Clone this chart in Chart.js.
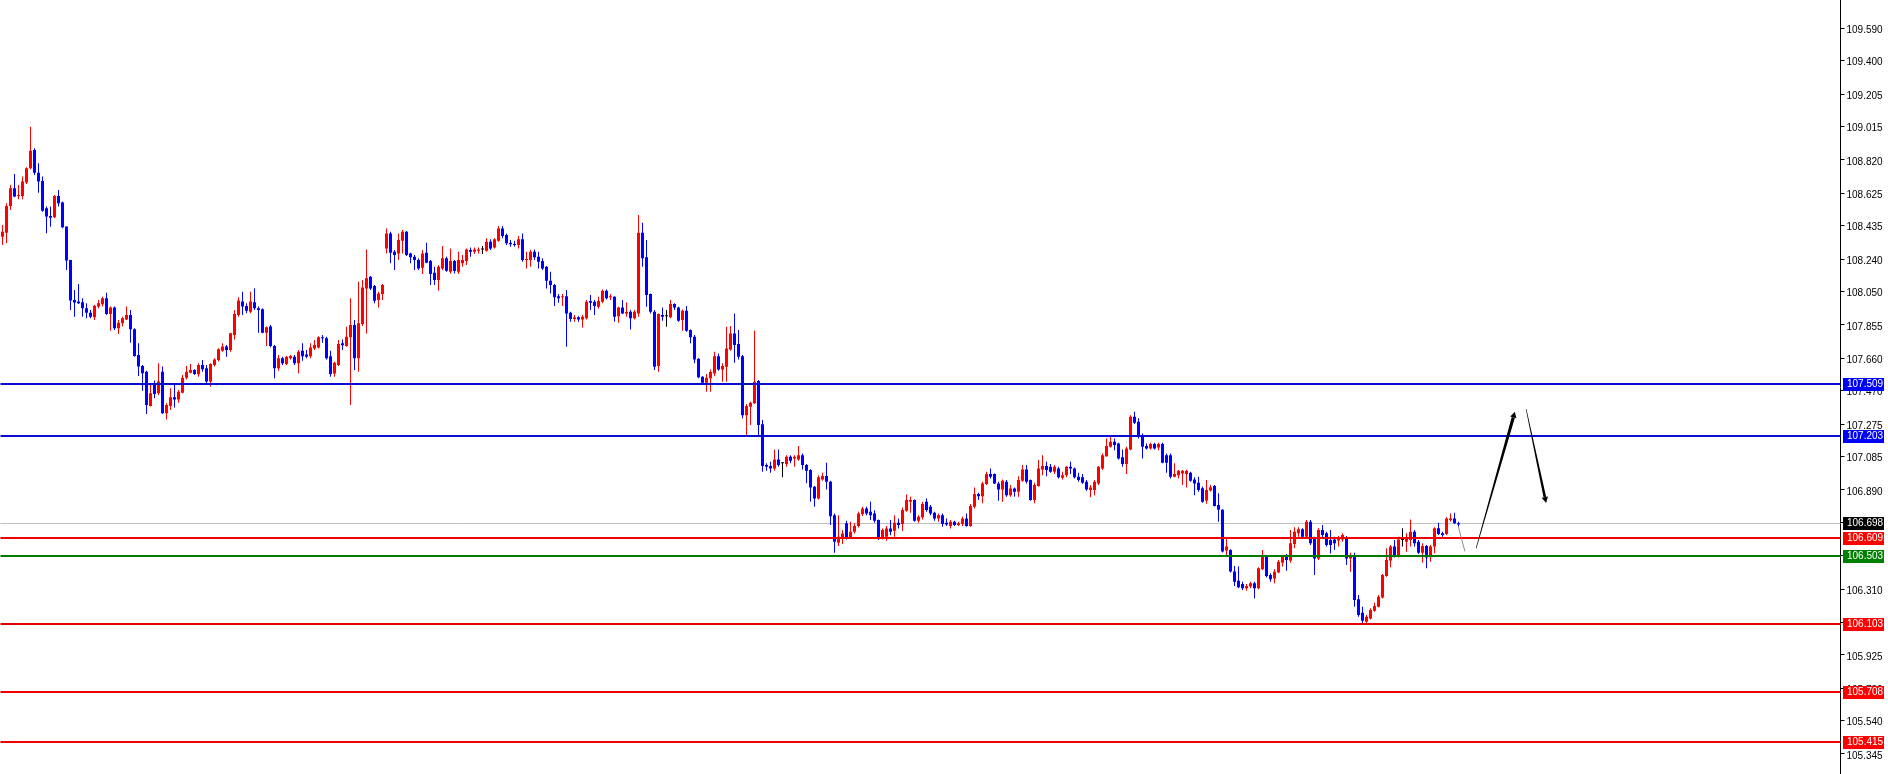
<!DOCTYPE html>
<html>
<head>
<meta charset="utf-8">
<title>Price chart</title>
<script src="https://cdn.jsdelivr.net/npm/chart.js@4.4.1/dist/chart.umd.min.js"></script>
<style>
  html, body { margin: 0; padding: 0; background: #fff; }
  #wrap { width: 1888px; height: 774px; }
</style>
</head>
<body>
<div id="wrap"><canvas id="priceChart" width="1888" height="774"></canvas></div>
<script>
// ── candle data, one value per bar ──
const opens = [
  108.371, 108.394, 108.550, 108.654, 108.609, 108.609, 108.687, 108.771, 108.878, 108.745,
  108.697, 108.537, 108.492, 108.484, 108.609, 108.570, 108.430, 108.235, 108.001, 107.991,
  107.987, 107.952, 107.926, 107.899, 107.962, 107.975, 108.010, 107.919, 107.956, 107.835,
  107.864, 107.887, 107.913, 107.829, 107.679, 107.614, 107.581, 107.380, 107.509, 107.455,
  107.581, 107.338, 107.380, 107.431, 107.419, 107.458, 107.546, 107.575, 107.591, 107.566,
  107.620, 107.601, 107.523, 107.620, 107.650, 107.704, 107.728, 107.708, 107.796, 107.913,
  107.991, 107.965, 107.932, 107.987, 107.952, 107.946, 107.809, 107.845, 107.731, 107.601,
  107.659, 107.626, 107.659, 107.669, 107.630, 107.704, 107.682, 107.672, 107.717, 107.723,
  107.782, 107.776, 107.672, 107.571, 107.620, 107.747, 107.731, 107.782, 107.854, 107.659,
  107.860, 108.068, 108.137, 108.082, 108.000, 108.035, 108.302, 108.390, 108.283, 108.273,
  108.347, 108.400, 108.273, 108.254, 108.234, 108.189, 108.277, 108.228, 108.160, 108.117,
  108.185, 108.244, 108.166, 108.228, 108.166, 108.215, 108.228, 108.293, 108.283, 108.289,
  108.296, 108.289, 108.341, 108.308, 108.347, 108.419, 108.380, 108.335, 108.328, 108.322,
  108.355, 108.234, 108.234, 108.283, 108.254, 108.228, 108.195, 108.113, 108.088, 108.023,
  108.016, 108.023, 107.926, 107.889, 107.899, 107.887, 107.893, 107.994, 107.990, 107.961,
  107.990, 108.055, 108.016, 108.020, 107.906, 107.957, 107.922, 107.932, 107.893, 107.922,
  108.394, 108.250, 108.035, 107.932, 107.614, 107.912, 107.906, 107.899, 107.977, 107.957,
  107.883, 107.938, 107.825, 107.786, 107.657, 107.551, 107.516, 107.542, 107.571, 107.672,
  107.594, 107.610, 107.711, 107.805, 107.743, 107.672, 107.327, 107.376, 107.396, 107.526,
  107.273, 107.035, 107.029, 107.015, 107.068, 107.045, 107.041, 107.084, 107.074, 107.068,
  107.093, 107.035, 107.006, 106.908, 106.840, 106.951, 106.971, 106.937, 106.742, 106.580,
  106.606, 106.694, 106.612, 106.645, 106.678, 106.748, 106.781, 106.762, 106.752, 106.713,
  106.606, 106.616, 106.664, 106.651, 106.697, 106.690, 106.768, 106.820, 106.830, 106.709,
  106.729, 106.820, 106.791, 106.756, 106.723, 106.742, 106.697, 106.678, 106.703, 106.684,
  106.690, 106.723, 106.678, 106.791, 106.865, 106.853, 106.924, 106.982, 106.982, 106.927,
  106.892, 106.937, 106.859, 106.898, 106.879, 106.943, 107.009, 106.947, 106.830, 106.912,
  107.009, 107.029, 107.025, 106.996, 107.015, 106.961, 106.976, 107.025, 107.015, 106.967,
  106.963, 106.937, 106.889, 106.889, 106.927, 107.015, 107.087, 107.142, 107.171, 107.161,
  107.080, 107.041, 107.126, 107.318, 107.288, 107.210, 107.146, 107.132, 107.158, 107.138,
  107.158, 107.093, 107.093, 106.967, 106.976, 106.986, 106.982, 106.990, 106.951, 106.931,
  106.899, 106.827, 106.886, 106.913, 106.802, 106.773, 106.535, 106.538, 106.412, 106.359,
  106.339, 106.314, 106.324, 106.343, 106.314, 106.425, 106.503, 106.392, 106.372, 106.406,
  106.464, 106.503, 106.476, 106.573, 106.636, 106.659, 106.616, 106.704, 106.606, 106.489,
  106.655, 106.636, 106.597, 106.600, 106.593, 106.600, 106.612, 106.489, 106.509, 106.250,
  106.171, 106.119, 106.138, 106.183, 106.206, 106.261, 106.386, 106.476, 106.558, 106.503,
  106.597, 106.587, 106.597, 106.645, 106.587, 106.522, 106.561, 106.499, 106.558, 106.665,
  106.636, 106.632, 106.713, 106.723, 106.694
];

const highs = [
  108.439, 108.566, 108.673, 108.738, 108.673, 108.722, 108.777, 109.014, 108.888, 108.800,
  108.722, 108.547, 108.547, 108.615, 108.644, 108.576, 108.430, 108.235, 108.059, 108.094,
  108.010, 107.981, 107.942, 107.971, 108.001, 108.020, 108.043, 107.962, 107.962, 107.884,
  107.903, 107.962, 107.942, 107.835, 107.747, 107.620, 107.587, 107.503, 107.529, 107.630,
  107.611, 107.396, 107.484, 107.503, 107.474, 107.562, 107.614, 107.626, 107.595, 107.630,
  107.650, 107.620, 107.630, 107.659, 107.718, 107.747, 107.737, 107.809, 107.942, 108.016,
  108.049, 107.981, 108.049, 108.069, 107.962, 107.952, 107.845, 107.854, 107.737, 107.679,
  107.669, 107.673, 107.679, 107.679, 107.708, 107.747, 107.708, 107.747, 107.766, 107.789,
  107.795, 107.786, 107.704, 107.639, 107.766, 107.770, 107.844, 108.010, 107.883, 108.107,
  108.117, 108.296, 108.140, 108.088, 108.049, 108.094, 108.419, 108.400, 108.293, 108.390,
  108.410, 108.404, 108.277, 108.263, 108.244, 108.293, 108.335, 108.234, 108.195, 108.205,
  108.316, 108.254, 108.302, 108.234, 108.283, 108.263, 108.302, 108.308, 108.308, 108.308,
  108.316, 108.361, 108.355, 108.361, 108.433, 108.433, 108.390, 108.351, 108.347, 108.374,
  108.390, 108.283, 108.293, 108.296, 108.283, 108.244, 108.199, 108.166, 108.094, 108.035,
  108.035, 108.059, 107.932, 107.912, 107.906, 107.912, 108.000, 108.029, 108.000, 108.020,
  108.062, 108.062, 108.035, 108.023, 107.961, 108.000, 107.985, 107.942, 107.942, 108.497,
  108.452, 108.351, 108.039, 107.942, 107.922, 107.957, 107.942, 108.000, 107.981, 107.961,
  107.945, 107.965, 107.828, 107.795, 107.659, 107.555, 107.567, 107.594, 107.698, 107.688,
  107.630, 107.844, 107.848, 107.922, 107.825, 107.678, 107.392, 107.405, 107.821, 107.532,
  107.298, 107.045, 107.054, 107.126, 107.126, 107.049, 107.093, 107.093, 107.093, 107.146,
  107.103, 107.041, 107.010, 106.912, 106.976, 106.990, 107.049, 106.943, 106.752, 106.742,
  106.655, 106.709, 106.703, 106.694, 106.762, 106.791, 106.791, 106.820, 106.771, 106.717,
  106.664, 106.678, 106.713, 106.742, 106.723, 106.787, 106.863, 106.850, 106.834, 106.742,
  106.820, 106.840, 106.801, 106.762, 106.752, 106.752, 106.723, 106.713, 106.709, 106.703,
  106.733, 106.752, 106.807, 106.904, 106.873, 106.937, 106.996, 107.015, 106.986, 106.937,
  106.951, 106.947, 106.918, 106.904, 106.970, 107.035, 107.035, 106.951, 106.931, 107.064,
  107.093, 107.054, 107.041, 107.035, 107.025, 106.996, 107.029, 107.054, 107.021, 106.990,
  106.982, 106.947, 106.918, 106.947, 107.029, 107.103, 107.191, 107.210, 107.191, 107.165,
  107.126, 107.142, 107.327, 107.347, 107.308, 107.220, 107.161, 107.165, 107.165, 107.165,
  107.165, 107.103, 107.103, 107.045, 107.006, 107.006, 107.006, 106.996, 106.963, 106.967,
  106.909, 106.948, 106.919, 106.919, 106.870, 106.776, 106.607, 106.542, 106.445, 106.441,
  106.353, 106.339, 106.353, 106.353, 106.437, 106.538, 106.509, 106.402, 106.425, 106.480,
  106.509, 106.515, 106.655, 106.671, 106.671, 106.665, 106.714, 106.714, 106.616, 106.665,
  106.684, 106.645, 106.655, 106.616, 106.620, 106.636, 106.620, 106.522, 106.522, 106.275,
  106.206, 106.158, 106.197, 106.230, 106.275, 106.398, 106.548, 106.567, 106.597, 106.616,
  106.665, 106.636, 106.717, 106.655, 106.597, 106.577, 106.567, 106.567, 106.671, 106.698,
  106.645, 106.729, 106.752, 106.756, 106.704
];

const lows = [
  108.322, 108.332, 108.527, 108.601, 108.589, 108.589, 108.679, 108.765, 108.732, 108.628,
  108.517, 108.391, 108.429, 108.478, 108.547, 108.420, 108.176, 107.942, 107.903, 107.977,
  107.903, 107.893, 107.893, 107.884, 107.952, 107.962, 107.913, 107.821, 107.825, 107.802,
  107.845, 107.884, 107.751, 107.669, 107.556, 107.470, 107.334, 107.377, 107.425, 107.445,
  107.334, 107.302, 107.357, 107.371, 107.400, 107.455, 107.536, 107.572, 107.562, 107.552,
  107.581, 107.513, 107.494, 107.611, 107.640, 107.698, 107.669, 107.698, 107.770, 107.903,
  107.913, 107.923, 107.923, 107.942, 107.809, 107.806, 107.731, 107.724, 107.542, 107.587,
  107.620, 107.620, 107.653, 107.620, 107.572, 107.645, 107.659, 107.659, 107.708, 107.717,
  107.750, 107.653, 107.552, 107.552, 107.614, 107.708, 107.727, 107.386, 107.591, 107.581,
  107.848, 107.805, 108.059, 107.981, 107.957, 108.000, 108.273, 108.215, 108.176, 108.234,
  108.273, 108.257, 108.215, 108.176, 108.176, 108.152, 108.215, 108.088, 108.088, 108.055,
  108.176, 108.166, 108.156, 108.156, 108.152, 108.195, 108.205, 108.254, 108.269, 108.273,
  108.269, 108.283, 108.293, 108.302, 108.341, 108.361, 108.322, 108.312, 108.312, 108.302,
  108.224, 108.185, 108.195, 108.234, 108.185, 108.176, 108.068, 108.039, 107.965, 107.984,
  107.965, 107.727, 107.873, 107.873, 107.873, 107.840, 107.887, 107.942, 107.912, 107.951,
  107.981, 108.004, 108.000, 107.873, 107.867, 107.918, 107.903, 107.828, 107.887, 107.903,
  108.195, 107.961, 107.922, 107.591, 107.581, 107.879, 107.844, 107.893, 107.942, 107.873,
  107.821, 107.815, 107.747, 107.630, 107.542, 107.509, 107.464, 107.464, 107.555, 107.587,
  107.522, 107.522, 107.704, 107.633, 107.653, 107.308, 107.210, 107.269, 107.392, 107.210,
  106.996, 107.002, 106.990, 107.002, 107.025, 106.963, 107.025, 107.045, 107.025, 107.060,
  107.009, 106.928, 106.820, 106.791, 106.834, 106.943, 106.892, 106.684, 106.522, 106.561,
  106.573, 106.600, 106.606, 106.635, 106.670, 106.737, 106.742, 106.713, 106.697, 106.596,
  106.600, 106.592, 106.625, 106.616, 106.664, 106.651, 106.762, 106.756, 106.703, 106.697,
  106.717, 106.762, 106.742, 106.709, 106.703, 106.674, 106.678, 106.664, 106.678, 106.678,
  106.678, 106.674, 106.674, 106.781, 106.830, 106.811, 106.918, 106.957, 106.924, 106.826,
  106.820, 106.850, 106.850, 106.850, 106.850, 106.937, 106.927, 106.826, 106.811, 106.908,
  106.976, 106.970, 106.990, 106.982, 106.957, 106.951, 106.963, 106.982, 106.957, 106.937,
  106.924, 106.885, 106.846, 106.859, 106.918, 107.006, 107.084, 107.138, 107.122, 107.068,
  107.025, 106.982, 107.122, 107.275, 107.191, 107.074, 107.126, 107.126, 107.126, 107.122,
  107.045, 106.990, 106.957, 106.963, 106.957, 106.918, 106.904, 106.937, 106.859, 106.879,
  106.815, 106.808, 106.880, 106.792, 106.704, 106.523, 106.503, 106.406, 106.328, 106.314,
  106.304, 106.300, 106.314, 106.255, 106.308, 106.421, 106.378, 106.353, 106.343, 106.402,
  106.441, 106.417, 106.464, 106.548, 106.616, 106.612, 106.606, 106.567, 106.392, 106.480,
  106.612, 106.558, 106.518, 106.538, 106.558, 106.587, 106.450, 106.411, 106.206, 106.148,
  106.099, 106.099, 106.132, 106.177, 106.203, 106.255, 106.382, 106.437, 106.495, 106.495,
  106.558, 106.528, 106.558, 106.558, 106.515, 106.464, 106.431, 106.470, 106.519, 106.626,
  106.616, 106.626, 106.704, 106.690, 106.675
];

const closes = [
  108.400, 108.550, 108.654, 108.605, 108.615, 108.693, 108.771, 108.874, 108.745, 108.693,
  108.523, 108.488, 108.482, 108.609, 108.566, 108.426, 108.231, 107.997, 107.985, 107.981,
  107.952, 107.926, 107.903, 107.967, 107.981, 108.010, 107.919, 107.956, 107.835, 107.868,
  107.893, 107.913, 107.829, 107.673, 107.611, 107.572, 107.386, 107.455, 107.451, 107.523,
  107.338, 107.386, 107.431, 107.419, 107.464, 107.546, 107.581, 107.591, 107.568, 107.620,
  107.595, 107.523, 107.626, 107.653, 107.712, 107.728, 107.708, 107.806, 107.919, 107.997,
  107.962, 107.938, 107.991, 107.952, 107.942, 107.809, 107.841, 107.731, 107.601, 107.659,
  107.630, 107.669, 107.673, 107.630, 107.698, 107.672, 107.669, 107.723, 107.737, 107.782,
  107.776, 107.659, 107.567, 107.633, 107.743, 107.735, 107.786, 107.854, 107.659, 107.864,
  108.074, 108.127, 108.068, 107.996, 108.039, 108.088, 108.390, 108.277, 108.263, 108.351,
  108.400, 108.263, 108.250, 108.234, 108.185, 108.273, 108.218, 108.152, 108.117, 108.195,
  108.244, 108.172, 108.228, 108.170, 108.234, 108.234, 108.296, 108.283, 108.296, 108.296,
  108.296, 108.341, 108.302, 108.355, 108.419, 108.374, 108.332, 108.326, 108.322, 108.355,
  108.234, 108.240, 108.283, 108.250, 108.224, 108.185, 108.113, 108.088, 108.016, 108.010,
  108.023, 107.922, 107.889, 107.899, 107.887, 107.903, 107.990, 107.984, 107.965, 107.994,
  108.055, 108.010, 108.023, 107.903, 107.957, 107.922, 107.930, 107.893, 107.932, 108.394,
  108.244, 108.029, 107.932, 107.610, 107.918, 107.903, 107.906, 107.977, 107.957, 107.879,
  107.938, 107.821, 107.782, 107.653, 107.548, 107.516, 107.546, 107.579, 107.672, 107.594,
  107.614, 107.717, 107.805, 107.737, 107.669, 107.327, 107.380, 107.399, 107.522, 107.269,
  107.029, 107.025, 107.015, 107.068, 107.035, 107.045, 107.084, 107.060, 107.084, 107.093,
  107.035, 107.002, 106.904, 106.840, 106.963, 106.971, 106.937, 106.736, 106.586, 106.616,
  106.635, 106.612, 106.645, 106.678, 106.752, 106.781, 106.752, 106.742, 106.709, 106.606,
  106.655, 106.664, 106.645, 106.697, 106.684, 106.772, 106.830, 106.830, 106.709, 106.733,
  106.807, 106.772, 106.752, 106.723, 106.742, 106.690, 106.688, 106.703, 106.684, 106.694,
  106.723, 106.678, 106.795, 106.865, 106.853, 106.927, 106.982, 106.967, 106.927, 106.892,
  106.943, 106.859, 106.898, 106.879, 106.947, 107.009, 106.937, 106.830, 106.918, 107.015,
  107.029, 107.006, 106.996, 107.025, 106.963, 106.976, 107.025, 107.015, 106.963, 106.947,
  106.931, 106.892, 106.904, 106.937, 107.025, 107.093, 107.146, 107.171, 107.152, 107.074,
  107.041, 107.132, 107.318, 107.282, 107.204, 107.142, 107.132, 107.158, 107.132, 107.158,
  107.048, 107.048, 106.967, 106.982, 107.002, 107.002, 107.002, 106.943, 106.927, 106.889,
  106.821, 106.889, 106.905, 106.796, 106.773, 106.529, 106.558, 106.412, 106.353, 106.320,
  106.314, 106.328, 106.343, 106.314, 106.431, 106.503, 106.386, 106.367, 106.411, 106.470,
  106.503, 106.480, 106.577, 106.645, 106.659, 106.616, 106.704, 106.577, 106.489, 106.655,
  106.626, 106.567, 106.567, 106.577, 106.612, 106.626, 106.489, 106.509, 106.246, 106.158,
  106.125, 106.148, 106.187, 106.210, 106.265, 106.392, 106.480, 106.558, 106.503, 106.600,
  106.597, 106.606, 106.645, 106.577, 106.522, 106.561, 106.495, 106.558, 106.665, 106.632,
  106.626, 106.723, 106.723, 106.694, 106.688
];

// price axis
const priceMin = 105.228;
const priceMax = 109.755;
const tickValues = [
  109.590, 109.400, 109.205, 109.015, 108.820, 108.625, 108.435, 108.240,
  108.050, 107.855, 107.660, 107.470, 107.275, 107.085, 106.890, 106.700,
  106.505, 106.310, 106.115, 105.925, 105.730, 105.540, 105.345
];

// horizontal levels drawn on the chart
const levelPrices = [107.509, 107.203, 106.609, 106.503, 106.103, 105.708, 105.415];
const levelLineColors = ['#0a0ad0', '#0a0ad0', '#f00000', '#007a00', '#e00000', '#f00000', '#f00000'];
const levelTagColors = ['#0000ff', '#0000ff', '#ff0000', '#008000', '#ff0000', '#ff0000', '#ff0000'];
const lastPrice = 106.698;

// slots on the time axis (bars + empty space on the right)
const slotCount = 460;

// hand-drawn projection: [slot, price] pairs
const leadPath = [[363.9, 106.679], [365.6, 106.530]];
const upArrow = [[368.4, 106.548], [378.1, 107.347]];
const downArrow = [[380.9, 107.363], [385.9, 106.813]];

const UP = '#ff0000';
const DOWN = '#0000ff';

function candleColor(i) {
  if (closes[i] > opens[i]) return UP;
  if (closes[i] < opens[i]) return DOWN;
  return '#000000';
}

/* ════════════════════════════
   OVERLAYS (levels, tags, arrows)
════════════════════════════ */
function taperedArrow(ctx, p0, p1, w0, w1, head) {
  const dx = p1.x - p0.x, dy = p1.y - p0.y;
  const len = Math.hypot(dx, dy);
  const ux = dx / len, uy = dy / len;
  const nx = -uy, ny = ux;
  const bx = p1.x - ux * head, by = p1.y - uy * head;
  ctx.beginPath();
  ctx.moveTo(p0.x + nx * w0 / 2, p0.y + ny * w0 / 2);
  ctx.lineTo(bx + nx * w1 / 2, by + ny * w1 / 2);
  ctx.lineTo(bx - nx * w1 / 2, by - ny * w1 / 2);
  ctx.lineTo(p0.x - nx * w0 / 2, p0.y - ny * w0 / 2);
  ctx.closePath();
  ctx.fill();
  // arrow head
  ctx.beginPath();
  ctx.moveTo(p1.x, p1.y);
  ctx.lineTo(bx + nx * 3.2, by + ny * 3.2);
  ctx.lineTo(bx - nx * 3.2, by - ny * 3.2);
  ctx.closePath();
  ctx.fill();
}

const overlayPlugin = {
  id: 'overlay',
  beforeDatasetsDraw(chart) {
    const { ctx, chartArea, scales: { y } } = chart;
    const py = Math.round(y.getPixelForValue(lastPrice)) + 0.5;
    ctx.save();
    ctx.strokeStyle = '#c0c0c0';
    ctx.lineWidth = 1;
    ctx.beginPath();
    ctx.moveTo(chartArea.left, py);
    ctx.lineTo(chartArea.right, py);
    ctx.stroke();
    ctx.restore();
  },
  afterDatasetsDraw(chart) {
    const { ctx, chartArea, scales: { x, y } } = chart;
    ctx.save();
    levelPrices.forEach((p, i) => {
      const py = Math.round(y.getPixelForValue(p));
      ctx.fillStyle = levelLineColors[i];
      ctx.fillRect(chartArea.left, py - 1, chartArea.right - chartArea.left, 2);
    });

    const pt = (d) => ({ x: x.getPixelForValue(d[0]), y: y.getPixelForValue(d[1]) });

    // thin lead-in from the last bar
    ctx.strokeStyle = '#8a8a8a';
    ctx.lineWidth = 1;
    ctx.beginPath();
    ctx.moveTo(pt(leadPath[0]).x, pt(leadPath[0]).y);
    ctx.lineTo(pt(leadPath[1]).x, pt(leadPath[1]).y);
    ctx.stroke();

    ctx.fillStyle = '#000';
    taperedArrow(ctx, pt(upArrow[0]), pt(upArrow[1]), 0.6, 3.2, 6);
    taperedArrow(ctx, pt(downArrow[0]), pt(downArrow[1]), 0.6, 2.6, 6);
    ctx.restore();
  },
  afterDraw(chart) {
    const { ctx, scales: { y } } = chart;
    const left = Math.round(y.left) + 2;
    const w = 41;
    ctx.save();
    ctx.font = '10px "Liberation Sans", Arial, sans-serif';
    ctx.textBaseline = 'middle';
    ctx.textAlign = 'left';
    const tag = (price, bg) => {
      const py = Math.round(y.getPixelForValue(price));
      ctx.fillStyle = bg;
      ctx.fillRect(left, py - 6, w, 13);
      ctx.fillStyle = '#fff';
      ctx.fillText(price.toFixed(3), left + 4, py + 0.5);
    };
    levelPrices.forEach((p, i) => tag(p, levelTagColors[i]));
    tag(lastPrice, '#000');
    ctx.restore();
  }
};

/* ════════════════════════════
   CANDLE CHART
════════════════════════════ */
function initCandleChart() {
  const canvas = document.getElementById('priceChart');
  const labels = Array.from({ length: slotCount }, (_, i) => String(i));
  const wicks = lows.map((l, i) => [l, highs[i]]);
  const bodies = opens.map((o, i) => [o, closes[i]]);

  new Chart(canvas, {
    type: 'bar',
    data: {
      labels,
      datasets: [
        {
          label: 'wick',
          data: wicks,
          backgroundColor: (c) => candleColor(c.dataIndex),
          barThickness: 1,
          grouped: false,
          inflateAmount: 0,
          borderWidth: 0,
          order: 2
        },
        {
          label: 'body',
          data: bodies,
          backgroundColor: (c) => candleColor(c.dataIndex),
          barThickness: 3,
          minBarLength: 1,
          grouped: false,
          inflateAmount: 0,
          borderWidth: 0,
          order: 1
        }
      ]
    },
    options: {
      responsive: false,
      devicePixelRatio: 1,
      animation: false,
      layout: { padding: { left: 0.5, right: 0, top: 0, bottom: 0 } },
      plugins: {
        legend: { display: false },
        tooltip: { enabled: false }
      },
      scales: {
        x: {
          type: 'category',
          display: false,
          offset: true,
          grid: { display: false }
        },
        y: {
          position: 'right',
          min: priceMin,
          max: priceMax,
          afterBuildTicks: (s) => { s.ticks = tickValues.map(v => ({ value: v })); },
          afterFit: (s) => { s.width = 47.5; s.paddingTop = 0; s.paddingBottom = 0; },
          grid: {
            drawOnChartArea: false,
            drawTicks: true,
            tickLength: 4,
            color: '#000'
          },
          border: { display: true, color: '#000', width: 1 },
          ticks: {
            autoSkip: false,
            padding: 2,
            labelOffset: 2,
            color: '#000',
            font: { family: 'Liberation Sans', size: 10 },
            callback: (v) => Number(v).toFixed(3)
          }
        }
      }
    },
    plugins: [overlayPlugin]
  });
}

initCandleChart();
</script>
</body>
</html>
